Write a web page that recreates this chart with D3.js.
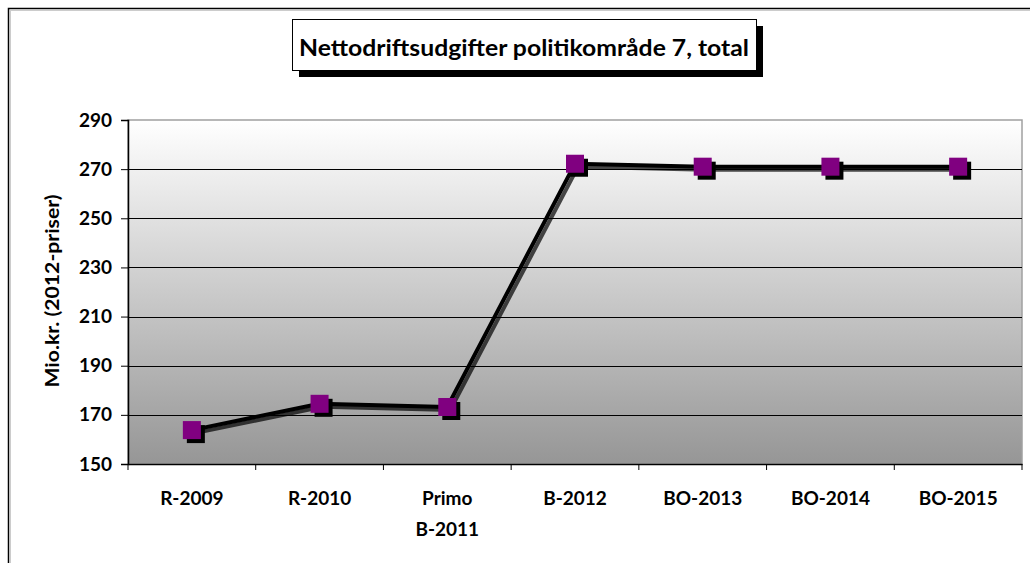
<!DOCTYPE html>
<html><head><meta charset="utf-8">
<script src="https://cdn.jsdelivr.net/npm/d3@7"></script>
<style>body{margin:0;background:#fff;}svg{display:block;}</style>
</head><body>
<svg id="c" width="1030" height="563"></svg>
<script>
const categories = ["R-2009", "R-2010", "Primo\nB-2011", "B-2012", "BO-2013", "BO-2014", "BO-2015"];
const values = [163.8, 174.5, 173.2, 272.2, 271, 271, 271];
const yTicks = [150, 170, 190, 210, 230, 250, 270, 290];
const title = "Nettodriftsudgifter politikområde 7, total";
const yTitle = "Mio.kr. (2012-priser)";

const svg = d3.select("#c");
const font = "Lato, 'Open Sans', sans-serif";
const m = {l: 128, r: 1022, t: 120, b: 464};

// outer border
svg.append("rect").attr("x", 8.5).attr("y", 8.5).attr("width", 1040).attr("height", 600)
  .attr("fill", "#fff").attr("stroke", "#000").attr("stroke-width", 1.5);
svg.append("line").attr("x1", 10).attr("x2", 1030).attr("y1", 10.5).attr("y2", 10.5).attr("stroke", "#ccc");
svg.append("line").attr("x1", 10.5).attr("x2", 10.5).attr("y1", 10).attr("y2", 563).attr("stroke", "#ccc");

const x = d3.scaleBand().domain(categories).range([m.l, m.r]);
const y = d3.scaleLinear().domain([150, 290]).range([m.b, m.t]);

const defs = svg.append("defs");
const g = defs.append("linearGradient").attr("id", "bg").attr("x1", 0).attr("y1", 0).attr("x2", 0).attr("y2", 1);
g.append("stop").attr("offset", "0%").attr("stop-color", "#ffffff");
g.append("stop").attr("offset", "100%").attr("stop-color", "#969696");

svg.append("rect").attr("x", m.l).attr("y", m.t).attr("width", m.r - m.l).attr("height", m.b - m.t)
  .attr("fill", "url(#bg)").attr("stroke", "#a0a0a0").attr("stroke-width", 1.5);

// grid
svg.append("g").selectAll("line").data(yTicks.filter(d => d > 150 && d < 290)).join("line")
  .attr("x1", m.l).attr("x2", m.r).attr("y1", d => Math.round(y(d)) + 0.5).attr("y2", d => Math.round(y(d)) + 0.5)
  .attr("stroke", "#000").attr("stroke-width", 1);

// axes
const yAxis = svg.append("g").attr("transform", `translate(${m.l},0)`)
  .call(d3.axisLeft(y).tickValues(yTicks).tickSize(7).tickPadding(9));
yAxis.select(".domain").attr("stroke", "#000").attr("stroke-width", 1.5);
yAxis.selectAll(".tick line").attr("stroke", "#000");
yAxis.selectAll("text").attr("font-family", font).attr("font-weight", "bold").attr("font-size", 19).attr("fill", "#000");

const xAxis = svg.append("g").attr("transform", `translate(0,${m.b})`)
  .call(d3.axisBottom(x).tickSize(0).tickFormat(""));
xAxis.select(".domain").attr("stroke", "#000").attr("stroke-width", 1.5);
const bounds = categories.map(c => x(c)).concat([m.r]);
svg.append("g").selectAll("line").data(bounds).join("line")
  .attr("x1", d => d).attr("x2", d => d).attr("y1", m.b).attr("y2", m.b + 6).attr("stroke", "#000");

const labels = svg.append("g").selectAll("text").data(categories).join("text")
  .attr("x", d => x(d) + x.bandwidth() / 2).attr("y", 505)
  .attr("text-anchor", "middle").attr("font-family", font).attr("font-weight", "bold").attr("font-size", 19);
labels.each(function(d) {
  const parts = d.split("\n");
  d3.select(this).selectAll("tspan").data(parts).join("tspan")
    .attr("x", x(d) + x.bandwidth() / 2).attr("dy", (p, i) => i === 0 ? 0 : 31).text(p => p);
});

// y title
svg.append("text").attr("transform", `translate(59,${291}) rotate(-90)`)
  .attr("text-anchor", "middle").attr("font-family", font).attr("font-weight", "bold").attr("font-size", 19)
  .attr("textLength", 193).attr("lengthAdjust", "spacingAndGlyphs")
  .text(yTitle);

// line + markers
const pts = categories.map((c, i) => [x(c) + x.bandwidth() / 2, y(values[i])]);
const line = d3.line();
svg.append("path").attr("d", line(pts.map(p => [p[0] + 3, p[1] + 3]))).attr("fill", "none")
  .attr("stroke", "#000").attr("stroke-opacity", 0.7).attr("stroke-width", 4);
svg.append("path").attr("d", line(pts)).attr("fill", "none").attr("stroke", "#000").attr("stroke-width", 4)
  .attr("stroke-linejoin", "round");
const ms = 18;
svg.append("g").selectAll("rect").data(pts).join("rect")
  .attr("x", d => d[0] - ms / 2 + 4).attr("y", d => d[1] - ms / 2 + 4).attr("width", ms).attr("height", ms).attr("fill", "#000");
svg.append("g").selectAll("rect").data(pts).join("rect")
  .attr("x", d => d[0] - ms / 2).attr("y", d => d[1] - ms / 2).attr("width", ms).attr("height", ms).attr("fill", "#800080");

// title box
const tb = {x: 292, y: 19, w: 464, h: 51};
svg.append("rect").attr("x", tb.x + 7).attr("y", tb.y + 7).attr("width", tb.w).attr("height", tb.h).attr("fill", "#000");
svg.append("rect").attr("x", tb.x + 0.5).attr("y", tb.y + 0.5).attr("width", tb.w).attr("height", tb.h)
  .attr("fill", "#fff").attr("stroke", "#000").attr("stroke-width", 1);
svg.append("text").attr("x", tb.x + tb.w / 2).attr("y", tb.y + 37).attr("text-anchor", "middle")
  .attr("font-family", font).attr("font-weight", "bold").attr("font-size", 22).attr("fill", "#000")
  .attr("textLength", 450).attr("lengthAdjust", "spacingAndGlyphs")
  .text(title);
</script>
</body></html>
